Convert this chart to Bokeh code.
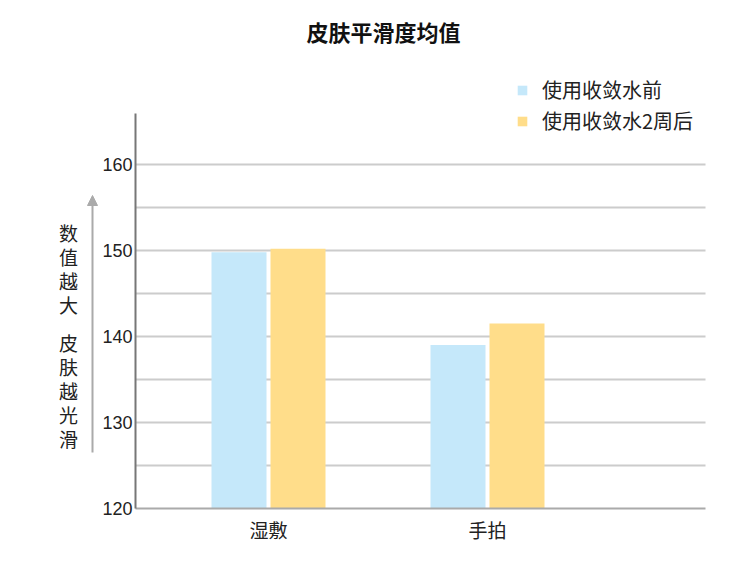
from bokeh.plotting import figure
from bokeh.models import (Range1d, FixedTicker, Label, Legend, LegendItem, Arrow,
                          NormalHead, ColumnDataSource)
from bokeh.embed import file_html
from bokeh.resources import INLINE

# ---- data ----
title_text = "皮肤平滑度均值"
categories = ["湿敷", "手拍"]
series_names = ["使用收敛水前", "使用收敛水2周后"]
before_values = [149.8, 139.0]
after_values = [150.2, 141.5]
y_ticks = [120, 130, 140, 150, 160]
grid_ticks = [125, 130, 135, 140, 145, 150, 155, 160]
y_label_top = "数值越大"
y_label_bottom = "皮肤越光滑"

BLUE = "#C5E8FA"
YELLOW = "#FFDD8A"
CJK = "Noto Sans CJK SC"

# ---- layout geometry (canvas pixels) ----
W, H = 734, 548
FR_L, FR_R, FR_T, FR_B = 135, 705, 113, 508   # chart area
PX_PER_UNIT = 8.6
C0 = 268.0      # centre of first category
CSTEP = 219.0   # distance between categories
Y_BASE = 120.0


def px2x(px):
    return (px - C0) / CSTEP


def px2y(py):
    return Y_BASE + (FR_B - py) / PX_PER_UNIT


x_left, x_right = px2x(FR_L), px2x(FR_R)
y_top = px2y(FR_T)

p = figure(width=W, height=H, output_backend="svg", toolbar_location=None,
           x_range=Range1d(px2x(0), px2x(W)), y_range=Range1d(px2y(H), px2y(0)),
           min_border=0, min_border_left=0, min_border_right=0,
           min_border_top=0, min_border_bottom=0)
p.outline_line_color = None
p.background_fill_color = "white"
p.border_fill_color = "white"
p.xgrid.visible = False
p.ygrid.visible = False

# grid lines
p.segment(x0=x_left, x1=x_right, y0=grid_ticks, y1=grid_ticks,
          line_color="#cccccc", line_width=2)

# bars
pos = list(range(len(categories)))
bw = 55.0 / CSTEP
off = 29.5 / CSTEP
src_b = ColumnDataSource(dict(x=[i - off for i in pos], top=before_values))
src_a = ColumnDataSource(dict(x=[i + off for i in pos], top=after_values))
r1 = p.vbar(x="x", top="top", bottom=Y_BASE, width=bw, source=src_b,
            fill_color=BLUE, line_color=None)
r2 = p.vbar(x="x", top="top", bottom=Y_BASE, width=bw, source=src_a,
            fill_color=YELLOW, line_color=None)

# y axis
ya = p.yaxis[0]
ya.fixed_location = x_left
ya.bounds = (Y_BASE, y_top)
ya.ticker = FixedTicker(ticks=y_ticks)
ya.axis_line_color = "#777777"
ya.axis_line_width = 2
ya.major_tick_line_color = None
ya.minor_tick_line_color = None
ya.major_tick_out = 0
ya.major_tick_in = 0
ya.major_label_standoff = 3
ya.major_label_text_font = "Liberation Sans"
ya.major_label_text_font_size = "18px"
ya.major_label_text_color = "#222222"

# x axis
xa = p.xaxis[0]
xa.fixed_location = Y_BASE
xa.bounds = (x_left, x_right)
xa.ticker = FixedTicker(ticks=pos)
xa.major_label_overrides = {i: c for i, c in zip(pos, categories)}
xa.axis_line_color = "#aaaaaa"
xa.axis_line_width = 2
xa.major_tick_line_color = None
xa.minor_tick_line_color = None
xa.major_tick_out = 0
xa.major_tick_in = 0
xa.major_label_standoff = 7
xa.major_label_text_font = CJK
xa.major_label_text_font_size = "19px"
xa.major_label_text_color = "#222222"

# title
p.add_layout(Label(x=px2x(383), y=px2y(30), text=title_text, text_align="center",
                   text_baseline="middle", text_font=CJK, text_font_size="22px",
                   text_font_style="bold", text_color="#111111"))

# vertical y label
for ch, yy in zip(y_label_top, [232, 256, 280, 304]):
    p.add_layout(Label(x=px2x(68), y=px2y(yy), text=ch, text_align="center",
                       text_baseline="middle", text_font=CJK, text_font_size="19px",
                       text_color="#222222"))
for ch, yy in zip(y_label_bottom, [342, 366, 390, 414, 438]):
    p.add_layout(Label(x=px2x(68), y=px2y(yy), text=ch, text_align="center",
                       text_baseline="middle", text_font=CJK, text_font_size="19px",
                       text_color="#222222"))

# arrow
p.add_layout(Arrow(x_start=px2x(92), y_start=px2y(452), x_end=px2x(92), y_end=px2y(195),
                   line_color="#aaaaaa", line_width=2,
                   end=NormalHead(size=10, fill_color="#aaaaaa", line_color="#aaaaaa")))

# legend
legend = Legend(items=[LegendItem(label=series_names[0], renderers=[r1]),
                       LegendItem(label=series_names[1], renderers=[r2])],
                location=(516, H - 135), padding=0, margin=0,
                glyph_width=12, glyph_height=12, label_height=20, spacing=2,
                label_standoff=14, border_line_color=None, background_fill_alpha=0,
                label_text_font=CJK, label_text_font_size="20px",
                label_text_color="#222222")
p.add_layout(legend)

open("out.html", "w").write(file_html(p, INLINE))
